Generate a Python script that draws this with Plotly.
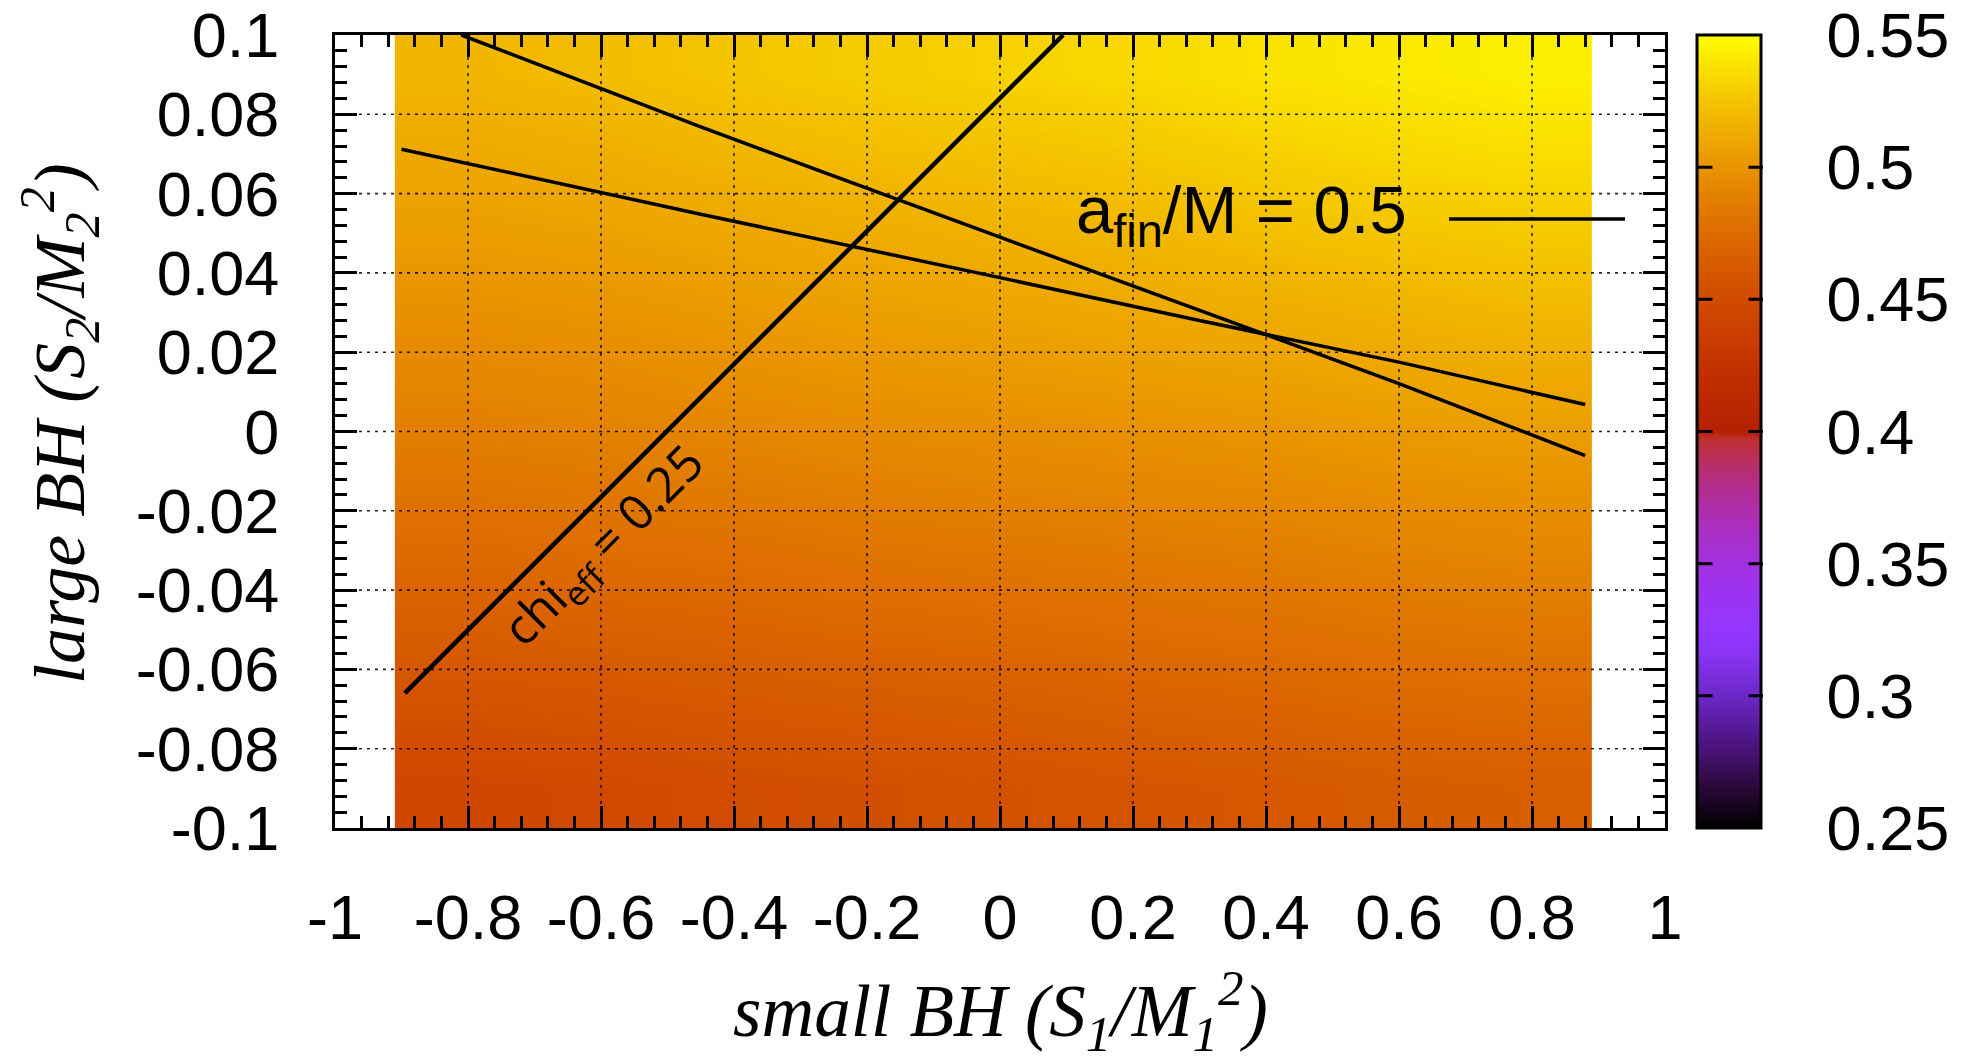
import math
import plotly.graph_objects as go

# ---------------- data ----------------
chi1_grid = [-0.81, -0.61, -0.41, -0.21, -0.01, 0.19, 0.39, 0.59, 0.79]
chi2_grid = [-0.09, -0.07, -0.05, -0.03, -0.01, 0.01, 0.03, 0.05, 0.07, 0.09]
afin = [
    [0.446, 0.448, 0.451, 0.453, 0.455, 0.458, 0.460, 0.463, 0.465],
    [0.455, 0.457, 0.460, 0.462, 0.464, 0.467, 0.469, 0.472, 0.474],
    [0.465, 0.467, 0.469, 0.472, 0.474, 0.476, 0.478, 0.481, 0.483],
    [0.474, 0.476, 0.478, 0.481, 0.483, 0.485, 0.487, 0.490, 0.492],
    [0.483, 0.485, 0.487, 0.490, 0.492, 0.494, 0.496, 0.499, 0.501],
    [0.491, 0.493, 0.496, 0.499, 0.501, 0.503, 0.505, 0.508, 0.510],
    [0.498, 0.500, 0.503, 0.506, 0.508, 0.511, 0.513, 0.516, 0.519],
    [0.505, 0.507, 0.510, 0.513, 0.516, 0.518, 0.522, 0.525, 0.527],
    [0.511, 0.514, 0.518, 0.521, 0.523, 0.526, 0.530, 0.533, 0.536],
    [0.518, 0.521, 0.525, 0.528, 0.531, 0.534, 0.538, 0.541, 0.544],
]

line_a_x = [-0.81, -0.45, 0.0, 0.30, 0.60, 0.88]
line_a_y = [0.100, 0.0768, 0.049, 0.0306, 0.0121, -0.0061]
line_b_x = [-0.90, -0.45, 0.0, 0.30, 0.60, 0.88]
line_b_y = [0.0712, 0.0548, 0.0388, 0.0280, 0.0175, 0.0068]
chi_x = [-0.895, 0.095]
chi_y = [-0.066, 0.100]

x_ticks = [-1, -0.8, -0.6, -0.4, -0.2, 0, 0.2, 0.4, 0.6, 0.8, 1]
x_ticktext = ["-1", "-0.8", "-0.6", "-0.4", "-0.2", "0", "0.2", "0.4", "0.6", "0.8", "1"]
y_ticks = [-0.1, -0.08, -0.06, -0.04, -0.02, 0, 0.02, 0.04, 0.06, 0.08, 0.1]
y_ticktext = ["-0.1", "-0.08", "-0.06", "-0.04", "-0.02", "0", "0.02", "0.04", "0.06", "0.08", "0.1"]
cb_ticks = [0.25, 0.30, 0.35, 0.40, 0.45, 0.50, 0.55]
cb_ticktext = ["0.25", "0.3", "0.35", "0.4", "0.45", "0.5", "0.55"]
z_min, z_max = 0.25, 0.55

# ---------------- style ----------------
# palette: dark/purple lower part as seen in the reference bar, gnuplot 7,5,15 upper part
cscale = [
    [0.000, "#000000"], [0.050, "#2a0838"], [0.100, "#4a1278"],
    [0.167, "#6c28c8"], [0.220, "#8a34f4"], [0.250, "#9436ff"],
    [0.300, "#9c33f0"], [0.333, "#a331e0"], [0.380, "#aa2fbe"],
    [0.420, "#b02d98"], [0.460, "#b82e66"], [0.490, "#be3030"],
]
N = 40
for i in range(N + 1):
    t = 0.5 + 0.5 * i / N
    r = math.sqrt(t)
    g = t ** 3
    cscale.append([t, "rgb(%d,%d,0)" % (round(255 * r), round(255 * g))])

# page geometry (the html body adds an 8 px offset)
OFF = 8
W, H = 1973 - OFF, 1061 - OFF
PAGE_L, PAGE_T = 335, 35          # plot-area corner in page pixels
PW, PH = 1330, 793
ML, MT = PAGE_L - OFF, PAGE_T - OFF
MR = W - ML - PW
MB = H - MT - PH


def px(page_x):
    return (page_x - PAGE_L) / PW


def py(page_y):
    return (PAGE_T + PH - page_y) / PH


TICKFONT = dict(family="Liberation Sans, Arial, sans-serif", size=63, color="black")
SERIF = "Liberation Serif, Times New Roman, serif"

fig = go.Figure()

fig.add_trace(go.Heatmap(
    x=chi1_grid, y=chi2_grid, z=afin, zsmooth="best",
    colorscale=cscale, zmin=z_min, zmax=z_max,
    hoverinfo="skip",
    colorbar=dict(
        x=px(1697), xanchor="left", xpad=0,
        y=0.5, yanchor="middle", len=1, lenmode="fraction", ypad=0,
        thickness=64, thicknessmode="pixels",
        outlinewidth=3, outlinecolor="black",
        tickmode="array", tickvals=cb_ticks, ticktext=cb_ticktext,
        ticks="outside", ticklen=52, tickcolor="rgba(0,0,0,0)",
        ticklabeloverflow="allow",
        tickfont=TICKFONT,
    ),
))

for xs, ys, w in [(line_a_x, line_a_y, 3.5), (line_b_x, line_b_y, 3.5), (chi_x, chi_y, 4.5)]:
    fig.add_trace(go.Scatter(x=xs, y=ys, mode="lines",
                             line=dict(color="black", width=w),
                             showlegend=False, hoverinfo="skip"))

shapes = []
grid_line = dict(color="rgba(0,0,0,0.85)", width=1.6, dash="3px,5px")
for xv in x_ticks[1:-1]:
    shapes.append(dict(type="line", xref="x", yref="paper", x0=xv, x1=xv, y0=0, y1=1,
                       line=grid_line, layer="above"))
for yv in y_ticks[1:-1]:
    shapes.append(dict(type="line", xref="paper", yref="y", x0=0, x1=1, y0=yv, y1=yv,
                       line=grid_line, layer="above"))
# key sample line
key_y = py(219)
shapes.append(dict(type="line", xref="paper", yref="paper",
                   x0=px(1449), x1=px(1625), y0=key_y, y1=key_y,
                   line=dict(color="black", width=3.5), layer="above"))

annotations = [
    dict(text="a<sub>fin</sub>/M = 0.5", xref="paper", yref="paper",
         x=px(1409), y=py(214), xanchor="right", yanchor="middle",
         showarrow=False, font=dict(family="Liberation Sans, Arial, sans-serif", size=67, color="black")),
    dict(text="chi<sub>eff</sub> = 0.25", xref="x", yref="y", x=-0.595, y=-0.029,
         textangle=-45, showarrow=False,
         font=dict(family="Open Sans, sans-serif", size=49, color="black")),
    dict(text="<i>small BH (S<sub>1</sub>/M<sub>1</sub><sup>2</sup>)</i>", xref="paper", yref="paper",
         x=0.5, y=py(1010), xanchor="center", yanchor="middle", showarrow=False,
         font=dict(family=SERIF, size=73, color="black")),
    dict(text="<i>large BH (S<sub>2</sub>/M<sub>2</sub><sup>2</sup>)</i>", xref="paper", yref="paper",
         x=px(60), y=py(424), xanchor="center", yanchor="middle",
         textangle=-90, showarrow=False,
         font=dict(family=SERIF, size=72, color="black")),
]
# inward tick marks on both edges of the colour bar
cb_left = px(1698)
cb_right = px(1763)
for v in cb_ticks[1:-1]:
    yp = (v - z_min) / (z_max - z_min)
    annotations.append(dict(text="", xref="paper", yref="paper", x=cb_left, y=yp,
                            ax=16, ay=0, showarrow=True, arrowhead=0, arrowwidth=3,
                            arrowcolor="black", standoff=0, startstandoff=0))
    annotations.append(dict(text="", xref="paper", yref="paper", x=cb_right, y=yp,
                            ax=-16, ay=0, showarrow=True, arrowhead=0, arrowwidth=3,
                            arrowcolor="black", standoff=0, startstandoff=0))

axis_common = dict(
    ticks="inside", ticklen=22, tickwidth=3, tickcolor="black",
    showline=True, linewidth=3, linecolor="black", mirror="allticks",
    showgrid=False, zeroline=False, tickfont=TICKFONT, layer="above traces",
    automargin=False, ticklabeloverflow="allow",
)

fig.update_layout(
    width=W, height=H,
    margin=dict(l=ML, r=MR, t=MT, b=MB, autoexpand=False),
    paper_bgcolor="white", plot_bgcolor="white",
    showlegend=False,
    xaxis=dict(range=[-1, 1], tickmode="array", tickvals=x_ticks, ticktext=x_ticktext,
               ticklabelstandoff=32,
               minor=dict(tickmode="linear", tick0=-1, dtick=0.04, ticks="inside",
                          ticklen=12, tickwidth=2.5, tickcolor="black", showgrid=False),
               **axis_common),
    yaxis=dict(range=[-0.1, 0.1], tickmode="array", tickvals=y_ticks, ticktext=y_ticktext,
               ticklabelstandoff=40,
               minor=dict(tickmode="linear", tick0=-0.1, dtick=0.004, ticks="inside",
                          ticklen=12, tickwidth=2.5, tickcolor="black", showgrid=False),
               **axis_common),
    shapes=shapes,
    annotations=annotations,
)

fig.write_html("out.html")
